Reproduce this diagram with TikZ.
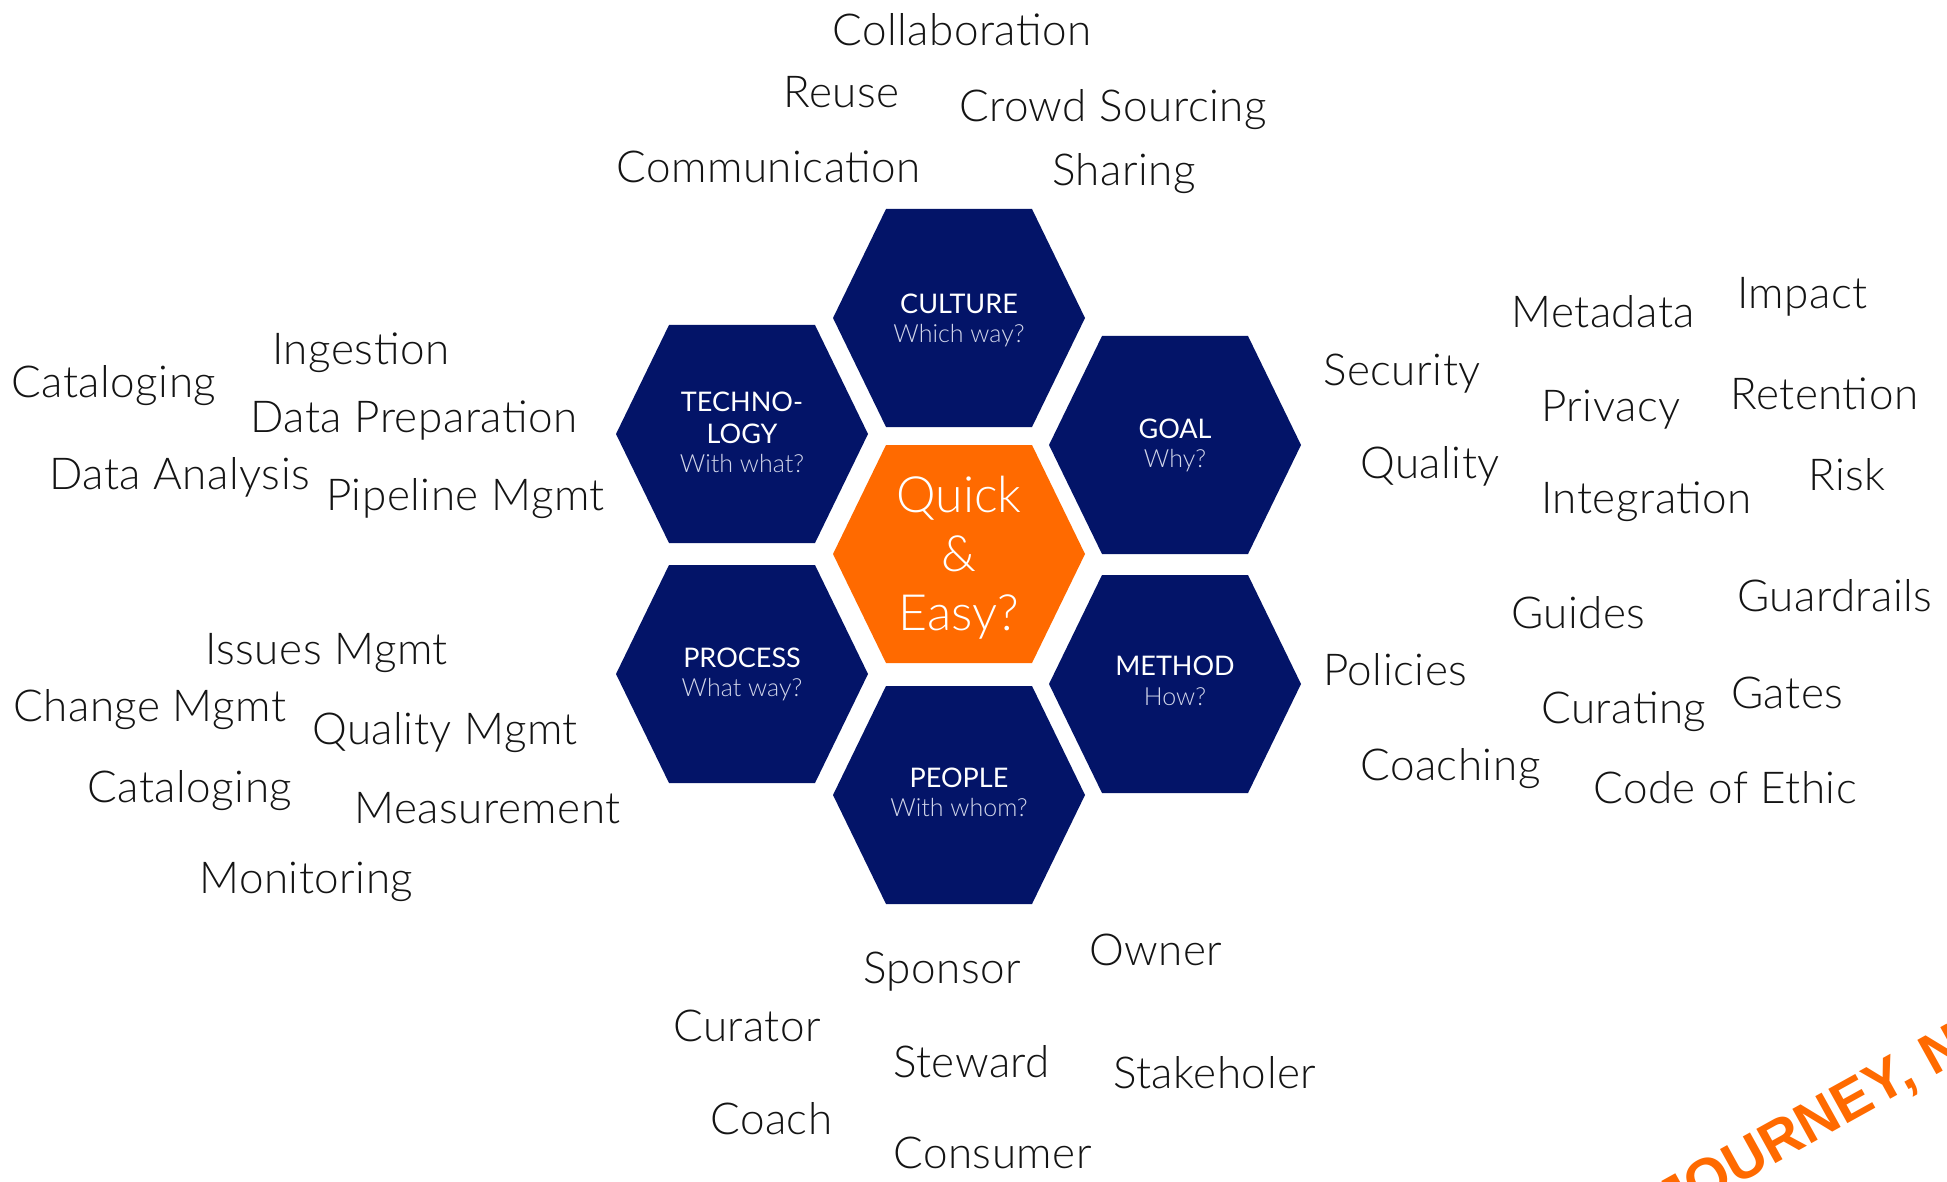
\documentclass[tikz,border=0pt]{standalone}
\usepackage{fontspec}
\setmainfont{Lato}[UprightFont=* Light, BoldFont=* Regular]
\newfontfamily\wordfont{Lato}[UprightFont=* Light, LetterSpace=1.2]
\newfontfamily\hexfont{Lato}
\newfontfamily\wmfont{Liberation Sans}[BoldFont=* Bold]
\definecolor{navy}{RGB}{3,20,104}
\definecolor{qorange}{RGB}{255,106,0}
\definecolor{subtxt}{RGB}{210,214,234}
\definecolor{wordtxt}{RGB}{20,20,20}
\newcommand\hexfill[3]{%
  \fill[#3] ({#1-126},{#2}) -- ({#1-73},{#2-109}) -- ({#1+73},{#2-109})
    -- ({#1+126},{#2}) -- ({#1+73},{#2+109}) -- ({#1-73},{#2+109}) -- cycle;}
\tikzset{
  word/.style={anchor=base west, inner sep=0pt, text=wordtxt,
    font=\wordfont\fontsize{44}{50}\selectfont},
  hextitle/.style={anchor=base, inner sep=0pt, text=white,
    font=\hexfont\fontsize{27}{32}\selectfont},
  hexsub/.style={anchor=base, inner sep=0pt, text=subtxt,
    font=\fontsize{25}{30}\selectfont},
  bigtxt/.style={anchor=base, inner sep=0pt, text=white,
    font=\fontsize{50}{59}\selectfont},
}
\begin{document}
\begin{tikzpicture}[x=1pt,y=-1pt]
\useasboundingbox (0,0) rectangle (1947,1182);
\clip (0,0) rectangle (1947,1182);
\fill[white] (0,0) rectangle (1947,1182);
% hexagons
\hexfill{959}{318}{navy}
\hexfill{959}{554}{qorange}
\hexfill{959}{795}{navy}
\hexfill{742}{434}{navy}
\hexfill{742}{674}{navy}
\hexfill{1175}{445}{navy}
\hexfill{1175}{684}{navy}
% hex labels
\node[hextitle] (cult) at (959,314) {CULTURE};
\node[hexsub] (cultq) at (959,343) {Which way?};
\node[hextitle] (tech1) at (742,411) {TECHNO-};
\node[hextitle] (tech2) at (742,443) {LOGY};
\node[hexsub] (techq) at (742,472) {With what?};
\node[hextitle] (goal) at (1175,438) {GOAL};
\node[hexsub] (goalq) at (1175,467) {Why?};
\node[hextitle] (proc) at (742,667) {PROCESS};
\node[hexsub] (procq) at (742,696) {What way?};
\node[hextitle] (meth) at (1175,675) {METHOD};
\node[hexsub] (methq) at (1175,705) {How?};
\node[hextitle] (peop) at (959,787) {PEOPLE};
\node[hexsub] (peopq) at (959,816) {With whom?};
\node[bigtxt] (q1) at (959,512) {Quick};
\node[bigtxt] (q2) at (959,571) {\&};
\node[bigtxt] (q3) at (959,630) {Easy?};
% culture words
\node[word] (w1) at (832,46) {Collaboration};
\node[word] (w2) at (783,108) {Reuse};
\node[word] (w3) at (959,122) {Crowd Sourcing};
\node[word] (w4) at (616,183) {Communication};
\node[word] (w5) at (1052,186) {Sharing};
% technology words
\node[word] (t1) at (272,364) {Ingestion};
\node[word] (t2) at (11,397) {Cataloging};
\node[word] (t3) at (250,432) {Data Preparation};
\node[word] (t4) at (49,489) {Data Analysis};
\node[word] (t5) at (326,510) {Pipeline Mgmt};
% process words
\node[word] (p1) at (205,664) {Issues Mgmt};
\node[word] (p2) at (13,721) {Change Mgmt};
\node[word] (p3) at (312,744) {Quality Mgmt};
\node[word] (p4) at (87,802) {Cataloging};
\node[word] (p5) at (354,823) {Measurement};
\node[word] (p6) at (199,893) {Monitoring};
% goal words
\node[word] (g1) at (1511,328) {Metadata};
\node[word] (g2) at (1737,309) {Impact};
\node[word] (g3) at (1323,385) {Security};
\node[word] (g4) at (1541,421) {Privacy};
\node[word] (g5) at (1730,409) {Retention};
\node[word] (g6) at (1360,478) {Quality};
\node[word] (g7) at (1541,513) {Integration};
\node[word] (g8) at (1808,490) {Risk};
% method words
\node[word] (m1) at (1511,628) {Guides};
\node[word] (m2) at (1737,611) {Guardrails};
\node[word] (m3) at (1323,685) {Policies};
\node[word] (m4) at (1541,723) {Curating};
\node[word] (m5) at (1731,708) {Gates};
\node[word] (m6) at (1360,780) {Coaching};
\node[word] (m7) at (1593,803) {Code of Ethic};
% people words
\node[word] (e1) at (863,983) {Sponsor};
\node[word] (e2) at (1089,965) {Owner};
\node[word] (e3) at (673,1041) {Curator};
\node[word] (e4) at (893,1077) {Steward};
\node[word] (e5) at (1113,1088) {Stakeholer};
\node[word] (e6) at (710,1134) {Coach};
\node[word] (e7) at (893,1168) {Consumer};
% watermark
\node[anchor=base west, inner sep=0pt, rotate=29, text=qorange,
  font=\wmfont\bfseries\fontsize{57}{57}\selectfont] (wm) at (1670,1222) {JOURNEY, NO};
\end{tikzpicture}
\end{document}
